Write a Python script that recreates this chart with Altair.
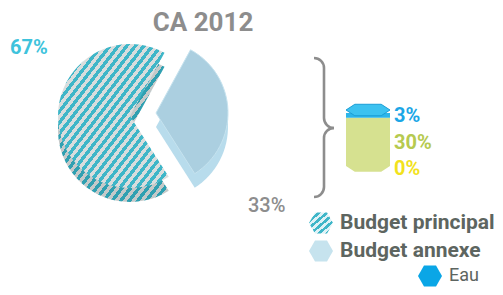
import math
import altair as alt
import pandas as pd

# ---------------- data ----------------
title_text = "CA 2012"
pie_categories = ["Budget annexe", "Budget principal"]
pie_values = [33, 67]
pie_labels = ["33%", "67%"]

cyl_keys = ["jaune", "vert", "bleu"]          # bottom -> top
cyl_values = [0, 30, 3]
cyl_labels = ["0%", "30%", "3%"]

legend_names = ["Budget principal", "Budget annexe", "Eau"]

# ---------------- styles / layout ----------------
W, H = 487, 279
FONT = "Roboto"
GRAY = "#8d8d8d"
DARK = "#5d6560"
cyl_colors = ["#f3e41c", "#d6e190", "#2cb5ea"]
cyl_text_colors = ["#f2e21c", "#b6ca50", "#1ba6e6"]
HEX = "M-1,0L-0.5,-0.866L0.5,-0.866L1,0L0.5,0.866L-0.5,0.866Z"
FLATHEX = "M-1,0L-0.6,-0.26L0.6,-0.26L1,0L0.6,0.26L-0.6,0.26Z"


def px(x):
    return x - 8


def py(y):
    return y - 8


def stripes(c1, c2, n):
    stops = []
    for i in range(n):
        a, b, c = i / n, (i + 0.5) / n, (i + 1) / n
        stops += [
            alt.GradientStop(offset=a, color=c1),
            alt.GradientStop(offset=b, color=c1),
            alt.GradientStop(offset=b, color=c2),
            alt.GradientStop(offset=c, color=c2),
        ]
    return alt.LinearGradient(gradient="linear", stops=stops, x1=0, y1=0, x2=1, y2=1)


R = 72
DEPTH = 14
A0 = 0.5
CX, CY = px(130), py(116)
AX, AY = CX + 26, CY - 3

pie_df = pd.DataFrame({"cat": pie_categories, "value": pie_values,
                       "label": pie_labels, "ord": list(range(len(pie_categories)))})
theta_scale = alt.Scale(range=[A0, A0 + 2 * math.pi])


def slice_layer(cat, cx, cy, fill, stroke=None):
    kw = dict(radius=R, fill=fill)
    if stroke:
        kw.update(stroke=stroke, strokeWidth=1)
    return alt.Chart(pie_df).mark_arc(**kw).encode(
        theta=alt.Theta("value:Q", stack=True, scale=theta_scale),
        order=alt.Order("ord:Q"),
        x=alt.value(cx), y=alt.value(cy),
        opacity=alt.condition(alt.datum.cat == cat, alt.value(1), alt.value(0)),
    )


layers = []

# title
layers.append(alt.Chart(pd.DataFrame({"t": [title_text]})).mark_text(
    font=FONT, fontSize=26, fontWeight="bold", color=GRAY, align="center", baseline="middle"
).encode(x=alt.value(px(203)), y=alt.value(py(23)), text="t:N"))

# pie (pseudo 3D)
layers.append(slice_layer("Budget principal", CX, CY + DEPTH, stripes("#30a0b1", "#c4c9c9", 26)))
layers.append(slice_layer("Budget principal", CX, CY, stripes("#3fb6c8", "#d9dddd", 26)))
layers.append(slice_layer("Budget annexe", AX, AY + DEPTH, "#b8dcec"))
layers.append(slice_layer("Budget annexe", AX, AY, "#abcfe0", stroke="#c6e3ef"))

# pie labels
pie_label_pos = {"Budget principal": (px(10), py(48), "#3ec3dc", "bold"),
                 "Budget annexe": (px(248), py(206), GRAY, 500)}
for cat, (x, y, col, wt) in pie_label_pos.items():
    layers.append(alt.Chart(pie_df).transform_filter(alt.datum.cat == cat).mark_text(
        font=FONT, fontSize=20, fontWeight=wt, color=col, align="left", baseline="middle"
    ).encode(x=alt.value(x), y=alt.value(y), text="label:N"))

# bracket
BR = 10
BW = 1.3
bracket_arcs = [
    (px(314), py(68), 0, math.pi / 2),
    (px(334), py(118), math.pi, 1.5 * math.pi),
    (px(334), py(138), 1.5 * math.pi, 2 * math.pi),
    (px(314), py(187), math.pi / 2, math.pi),
]
one = pd.DataFrame({"k": [0]})
for (x, y, t0, t1) in bracket_arcs:
    layers.append(alt.Chart(one).mark_arc(
        radius=BR + BW, radius2=BR - BW, theta=t0, theta2=t1, fill=GRAY
    ).encode(x=alt.value(x), y=alt.value(y)))
for (y0, y1) in [(68, 118), (138, 187)]:
    layers.append(alt.Chart(one).mark_rule(color=GRAY, strokeWidth=2.6).encode(
        x=alt.value(px(324)), y=alt.value(py(y0)), y2=alt.value(py(y1))))

# cylinder
cyl_df = pd.DataFrame({"key": cyl_keys, "value": cyl_values, "label": cyl_labels,
                       "ord": list(range(len(cyl_keys)))})
layers.append(alt.Chart(one).mark_point(
    shape=FLATHEX, size=44 * 44, filled=True, fill=cyl_colors[1], opacity=1
).encode(x=alt.value(px(368)), y=alt.value(py(166))))
layers.append(alt.Chart(cyl_df).transform_window(
    end="sum(value)", sort=[alt.SortField("ord")]
).transform_calculate(
    start="datum.end - datum.value"
).mark_rect().encode(
    x=alt.value(px(346)), x2=alt.value(px(390)),
    y=alt.Y("start:Q", scale=alt.Scale(nice=False, zero=True, range=[py(166), py(113)]), axis=None),
    y2="end:Q",
    color=alt.Color("key:N", scale=alt.Scale(domain=cyl_keys, range=cyl_colors), legend=None),
))
layers.append(alt.Chart(one).mark_point(
    shape=FLATHEX, size=44 * 44, filled=True, fill="#3cc2f0", stroke="#1b9ed6",
    strokeWidth=1, opacity=1
).encode(x=alt.value(px(368)), y=alt.value(py(110))))

cyl_label_y = {"bleu": 116, "vert": 143, "jaune": 169}
for key, col in zip(cyl_keys, cyl_text_colors):
    layers.append(alt.Chart(cyl_df).transform_filter(alt.datum.key == key).mark_text(
        font=FONT, fontSize=20, fontWeight="bold", color=col, align="left", baseline="middle"
    ).encode(x=alt.value(px(394)), y=alt.value(py(cyl_label_y[key])), text="label:N"))

# legend
legend_df = pd.DataFrame({"name": legend_names})
legend_fills = [stripes("#3fb6c8", "#dff2f6", 6), "#c6e3ee", "#0aa6e6"]
legend_icon_pos = [(321, 223), (321, 251), (430, 276)]
legend_text_pos = [(340, 223, "bold"), (340, 251, "bold"), (449, 276, "normal")]
for name, fill, (ix, iy), (tx, ty, wt) in zip(legend_names, legend_fills, legend_icon_pos, legend_text_pos):
    layers.append(alt.Chart(legend_df).transform_filter(alt.datum.name == name).mark_point(
        shape=HEX, size=24 * 24, filled=True, fill=fill, opacity=1
    ).encode(x=alt.value(px(ix)), y=alt.value(py(iy))))
    layers.append(alt.Chart(legend_df).transform_filter(alt.datum.name == name).mark_text(
        font=FONT, fontSize=18 if wt == "normal" else 21, fontWeight=wt, color=DARK,
        align="left", baseline="middle"
    ).encode(x=alt.value(px(tx)), y=alt.value(py(ty)), text="name:N"))

chart = alt.layer(*layers).properties(
    width=W, height=H, padding=0, autosize="none"
).configure_view(stroke=None)

chart.save("out.html", embed_options={"renderer": "svg", "actions": False})
